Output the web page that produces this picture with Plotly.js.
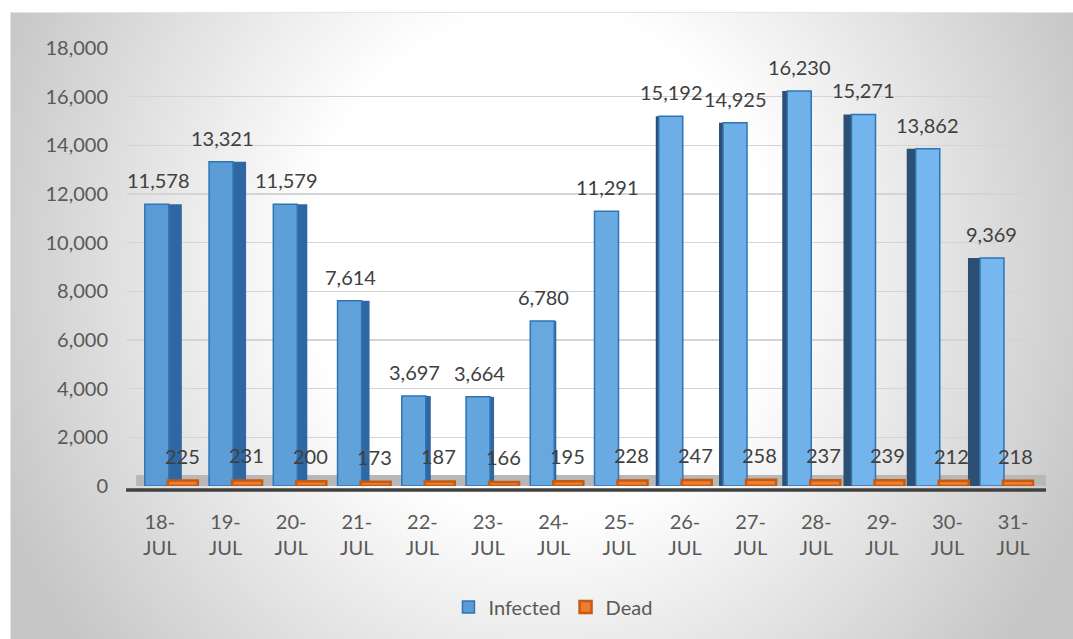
<!DOCTYPE html>
<html><head><meta charset="utf-8">
<script src="https://cdn.plot.ly/plotly-3.0.1.min.js"></script>
<style>
html,body{margin:0;padding:0;background:#fff;}
#card{position:absolute;left:10px;top:12px;width:1063px;height:627px;
 background:radial-gradient(ellipse 55% 100% at 50% 40%, #ffffff 40%, #c6c6c6 100%);
 border-top:1px solid #e4e4e4;border-left:1px solid #e4e4e4;box-sizing:border-box;}
#chart{position:absolute;left:0;top:0;width:1073px;height:639px;}
</style></head>
<body><div id="card"></div><div id="chart"></div>
<script>
// ---- data ----
const categories = ['18-JUL','19-JUL','20-JUL','21-JUL','22-JUL','23-JUL','24-JUL','25-JUL','26-JUL','27-JUL','28-JUL','29-JUL','30-JUL','31-JUL'];
const tickLabels = ['18-<br>JUL','19-<br>JUL','20-<br>JUL','21-<br>JUL','22-<br>JUL','23-<br>JUL','24-<br>JUL','25-<br>JUL','26-<br>JUL','27-<br>JUL','28-<br>JUL','29-<br>JUL','30-<br>JUL','31-<br>JUL'];
const infected = [11578,13321,11579,7614,3697,3664,6780,11291,15192,14925,16230,15271,13862,9369];
const dead = [225,231,200,173,187,166,195,228,247,258,237,239,212,218];

// ---- style helpers (pixel geometry of the pseudo-3D look) ----
const PX = 919/14;            // pixels per category unit
const n = categories.length;
const idx = categories.map((_, i) => i);
const frontW = 24, deadW = 30;
const sideW = [13,13,10,8,5,4,2,0,3,4,5,8,9,12];
const frontOff = idx.map(i => (-15 - 1.4*i));
const sideOff = idx.map(i => i <= 7 ? (frontOff[i] + frontW) : (frontOff[i] - sideW[i]));
const deadOff = idx.map(i => (8 - 1.4*i));
function mix(a, b, t){
  const pa = a.match(/\w\w/g).map(h=>parseInt(h,16)), pb = b.match(/\w\w/g).map(h=>parseInt(h,16));
  return 'rgb(' + pa.map((v,k)=>Math.round(v+(pb[k]-v)*t)).join(',') + ')';
}
const frontColors = idx.map(i => mix('5b9bd5','78b8f0', i/(n-1)));
const sideColors = idx.map(i => i <= 7 ? '#2f67a3' : '#2d4f73');

const font = {family:'Lato, "Open Sans", sans-serif', size:20, color:'#595959'};
const lblFont = {family:'Lato, "Open Sans", sans-serif', size:20, color:'#404040'};

const traces = [
  {type:'bar', x:categories, y:infected, width:sideW.map(w=>w/PX), offset:sideOff.map(o=>o/PX),
   marker:{color:sideColors}, showlegend:false, hoverinfo:'skip'},
  {type:'bar', name:'Infected', x:categories, y:infected, width:frontW/PX, offset:frontOff.map(o=>o/PX),
   marker:{color:frontColors, line:{color:'#2e75b6', width:1.5}}},
  {type:'bar', name:'Dead', x:categories, y:dead, width:deadW/PX, offset:deadOff.map(o=>o/PX),
   marker:{color:'#ed7d31', line:{color:'#c55a11', width:2.5}}}
];

const annotations = [];
idx.forEach(i => {
  annotations.push({x:categories[i], y:infected[i], xref:'x', yref:'y', text:infected[i].toLocaleString('en-US'),
    showarrow:false, xshift:-1-1.6*i, yshift:24, yanchor:'middle', font:lblFont});
  annotations.push({x:categories[i], y:dead[i], xref:'x', yref:'y', text:dead[i].toLocaleString('en-US'),
    showarrow:false, xshift:23-1.6*i, yshift:25, yanchor:'middle', font:lblFont});
});

const layout = {
  width:1073, height:639,
  margin:{l:127, r:27, t:48, b:153},
  paper_bgcolor:'rgba(0,0,0,0)', plot_bgcolor:'rgba(0,0,0,0)',
  barmode:'overlay',
  font:font,
  xaxis:{type:'category', range:[-0.5, n-0.5], tickvals:categories, ticktext:tickLabels,
    showgrid:false, zeroline:false, showline:false, ticks:'', ticklabelstandoff:22, tickfont:font, fixedrange:true},
  yaxis:{range:[0,18000], dtick:2000, tickformat:',d', showgrid:true, gridcolor:'#d4d4d4', gridwidth:1.4,
    zeroline:false, showline:false, ticks:'', ticklabelstandoff:18, tickfont:font, fixedrange:true},
  legend:{orientation:'h', x:0.4635, xanchor:'center', y:-0.276, yanchor:'middle', font:font,
    bgcolor:'rgba(0,0,0,0)', traceorder:'normal', itemwidth:30},
  shapes:[
    {type:'rect', xref:'paper', yref:'paper', x0:0.01, x1:1.0, y0:0, y1:11/438, fillcolor:'#b8b8b8', line:{width:0}, layer:'below'},
    {type:'line', xref:'paper', yref:'paper', x0:-0.001, x1:1.0, y0:-4/438, y1:-4/438, line:{color:'#404040', width:3.5}}
  ],
  annotations:annotations
};
Plotly.newPlot('chart', traces, layout, {displayModeBar:false, staticPlot:true});
</script>
</body></html>
